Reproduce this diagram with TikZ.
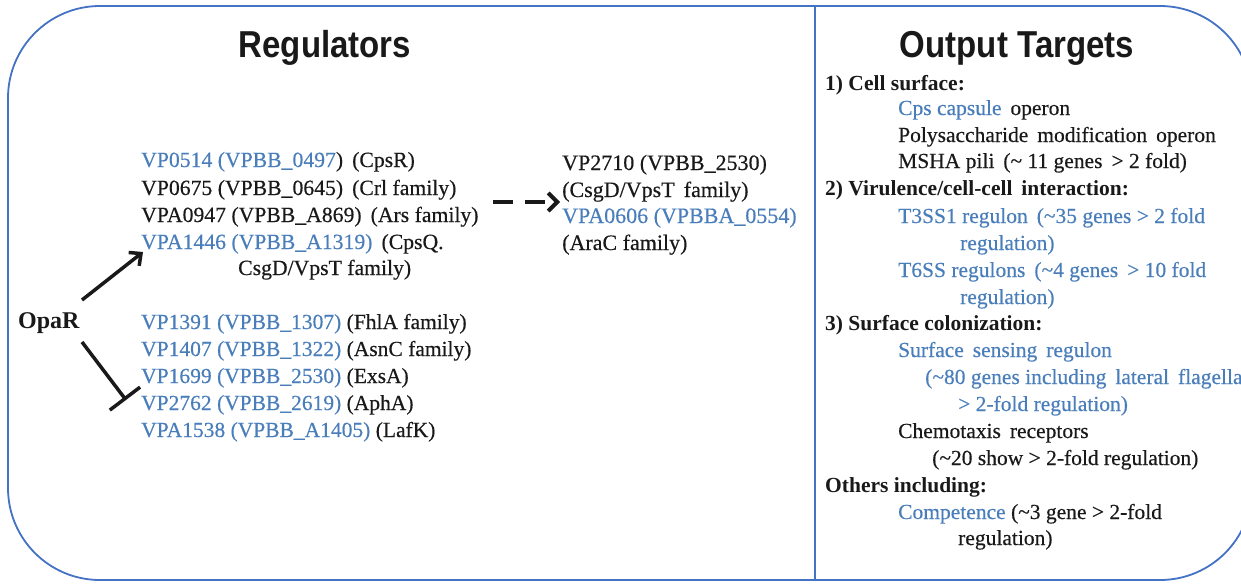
\documentclass[tikz,border=0pt]{standalone}
\usepackage{fontspec}
\setmainfont{Liberation Serif}[UprightFeatures={FakeBold=0.4}]
\newfontfamily\headfont[FakeStretch=0.88]{Liberation Sans}
\usetikzlibrary{arrows.meta}
\definecolor{frameblue}{RGB}{68,114,196}
\definecolor{txtblue}{RGB}{74,126,187}
\definecolor{ink}{RGB}{25,25,25}
\newcommand{\bl}[1]{\textcolor{txtblue}{#1}}
\begin{document}
\begin{tikzpicture}[x=1pt,y=-1pt,
  txt/.style={anchor=base west, inner sep=0pt, font=\fontsize{21.5}{27}\selectfont, text=ink},
  ltxt/.style={txt, font=\fontsize{21.7}{27}\selectfont},
  mtxt/.style={txt, font=\fontsize{22}{27}\selectfont},
  btxt/.style={txt, font=\fontsize{21.5}{27}\selectfont\bfseries},
  head/.style={anchor=base, inner sep=0pt, font=\headfont\bfseries\fontsize{37.5}{40}\selectfont, text=ink},
  conn/.style={draw=ink, line width=3.5pt}]
\useasboundingbox (0,0) rectangle (1241,584);
\clip (0,0) rectangle (1241,584);
\draw[frameblue, line width=1.8pt, rounded corners=92pt] (8,6) rectangle (1252,580);
\draw[frameblue, line width=1.2pt] (815,6) -- (815,580);

% headings
\node[head] (hreg) at (325,57) {Regulators};
\node[head] (hout) at (1017,57) {Output Targets};

% OpaR
\node[anchor=base west, inner sep=0pt, font=\fontsize{24}{28}\selectfont\bfseries, text=ink] (opar) at (18,328) {OpaR};

% regulators (activated)
\node[ltxt] (r1) at (141,167) {\bl{VP0514 (VPBB\_0497}) \,(CpsR)};
\node[ltxt] (r2) at (141,195) {VP0675 (VPBB\_0645) \,(Crl family)};
\node[ltxt] (r3) at (141,222) {VPA0947 (VPBB\_A869)\, (Ars family)};
\node[ltxt] (r4) at (141,249) {\bl{VPA1446 (VPBB\_A1319)} \,(CpsQ.};
\node[ltxt] (r4b) at (238,275) {CsgD/VpsT family)};

% regulators (repressed)
\node[txt] (s1) at (141,329) {\bl{VP1391 (VPBB\_1307)} (FhlA family)};
\node[txt] (s2) at (141,356) {\bl{VP1407 (VPBB\_1322)} (AsnC family)};
\node[txt] (s3) at (141,383) {\bl{VP1699 (VPBB\_2530)} (ExsA)};
\node[txt] (s4) at (141,410) {\bl{VP2762 (VPBB\_2619)} (AphA)};
\node[txt] (s5) at (141,437) {\bl{VPA1538 (VPBB\_A1405)} (LafK)};

% middle
\node[mtxt] (m1) at (562,170) {VP2710 (VPBB\_2530)};
\node[mtxt] (m2) at (562,197) {(CsgD/VpsT\, family)};
\node[mtxt] (m3) at (562,223) {\bl{VPA0606 (VPBBA\_0554)}};
\node[mtxt] (m4) at (562,250) {(AraC family)};

% connectors
\coordinate (a1s) at (82,300);
\coordinate (a1e) at (143,252);
\draw[conn, -{Straight Barb[length=9pt,width=17pt,line width=3.5pt]}] (a1s) -- (a1e);
\coordinate (a2s) at (82,342);
\coordinate (a2e) at (126,400);
\draw[conn, -{Bar[width=38pt,line width=3.5pt]}] (a2s) -- (a2e);
\coordinate (dds) at (493,202);
\coordinate (dde) at (560,202);
\draw[conn, line width=4pt, dash pattern=on 20pt off 12pt, -{Straight Barb[length=9pt,width=18pt,line width=4pt]}] (dds) -- (dde);

% output targets
\node[btxt] (o1) at (825,90) {1) Cell surface:};
\node[txt] (o1a) at (898,115) {\bl{Cps capsule}\, operon};
\node[txt] (o1b) at (898,142) {Polysaccharide\, modification\, operon};
\node[txt] (o1c) at (898,168) {MSHA pili\, (\textasciitilde\ 11 genes\, > 2 fold)};
\node[btxt] (o2) at (825,195) {2) Virulence/cell-cell\, interaction:};
\node[txt] (o2a) at (898,223) {\bl{T3SS1 regulon\, (\textasciitilde35 genes > 2 fold}};
\node[txt] (o2b) at (960,250) {\bl{regulation)}};
\node[txt] (o2c) at (898,277) {\bl{T6SS regulons\, (\textasciitilde4 genes\, > 10 fold}};
\node[txt] (o2d) at (960,304) {\bl{regulation)}};
\node[btxt] (o3) at (825,330) {3) Surface colonization:};
\node[txt] (o3a) at (898,357) {\bl{Surface\, sensing\, regulon}};
\node[txt] (o3b) at (925,384) {\bl{(\textasciitilde80 genes including\, lateral\, flagella}};
\node[txt] (o3c) at (958,411) {\bl{> 2-fold regulation)}};
\node[txt] (o3d) at (898,438) {Chemotaxis\, receptors};
\node[txt] (o3e) at (932,465) {(\textasciitilde20 show > 2-fold regulation)};
\node[btxt] (o4) at (825,492) {Others including:};
\node[txt] (o4a) at (898,519) {\bl{Competence} (\textasciitilde3 gene > 2-fold};
\node[txt] (o4b) at (958,545) {regulation)};
\end{tikzpicture}
\end{document}
